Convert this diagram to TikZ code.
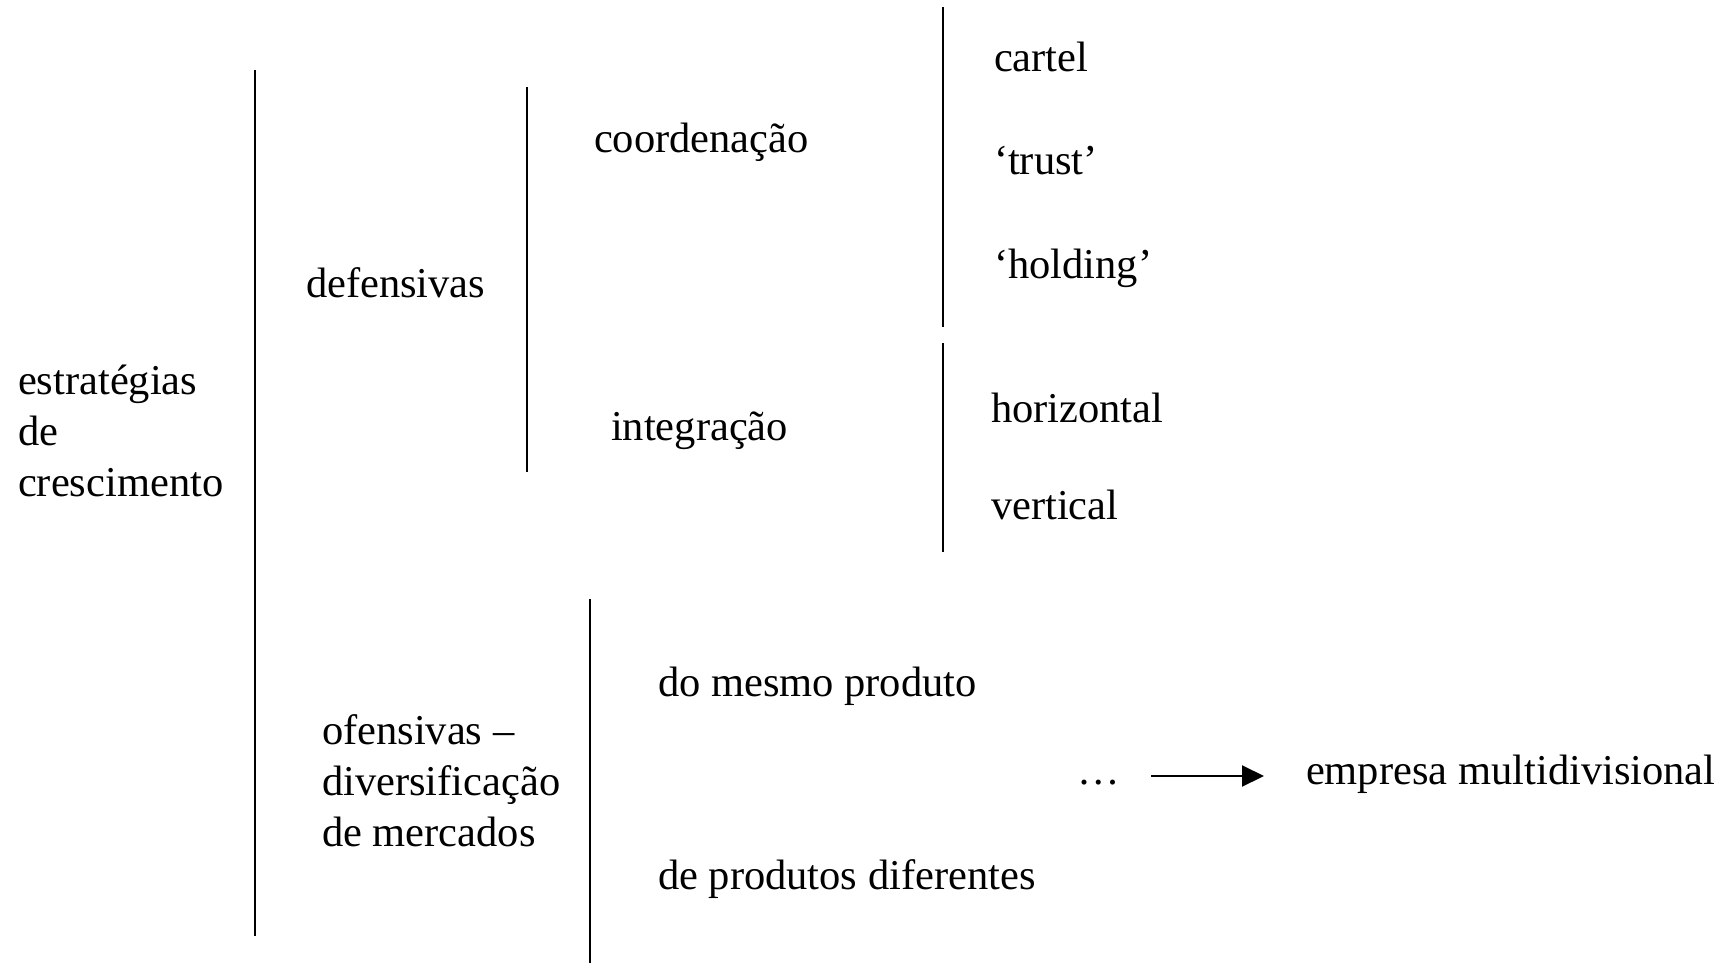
\documentclass[tikz,border=0pt]{standalone}
\usepackage{fontspec}
\setmainfont{Liberation Serif}
\usetikzlibrary{arrows.meta}
\begin{document}
\begin{tikzpicture}[x=1pt,y=-1pt,
  lbl/.style={anchor=base west,inner sep=0pt,outer sep=0pt},
  bar/.style={line width=2pt,draw=black},
  arr/.style={line width=2pt,-{Triangle[length=22pt,width=21pt]}},
  font=\fontsize{42.5}{51}\selectfont]
\useasboundingbox[fill=white] (0,0) rectangle (1729,963);
% bracket lines
\coordinate (aT) at (255,70);  \coordinate (aB) at (255,936);
\coordinate (bT) at (527,87);  \coordinate (bB) at (527,472);
\coordinate (cT) at (943,7);   \coordinate (cB) at (943,327);
\coordinate (dT) at (943,343); \coordinate (dB) at (943,552);
\coordinate (eT) at (590,599); \coordinate (eB) at (590,963);
\draw[bar] (aT) -- (aB);
\draw[bar] (bT) -- (bB);
\draw[bar] (cT) -- (cB);
\draw[bar] (dT) -- (dB);
\draw[bar] (eT) -- (eB);
% texts
\node[lbl] (est1) at (18,394) {estratégias};
\node[lbl] (est2) at (18,445) {de};
\node[lbl] (est3) at (18,496) {crescimento};
\node[lbl] (def) at (306,297) {defensivas};
\node[lbl] (coord) at (594,153) {coordenação};
\node[lbl] (integ) at (611,440) {integração};
\node[lbl] (cartel) at (994,72) {cartel};
\node[lbl] (trust) at (994,174) {‘trust’};
\node[lbl] (holding) at (994,278) {‘holding’};
\node[lbl] (horiz) at (991,422) {horizontal};
\node[lbl] (vert) at (991,519) {vertical};
\node[lbl] (of1) at (322,744) {ofensivas –};
\node[lbl] (of2) at (322,795) {diversificação};
\node[lbl] (of3) at (322,846) {de mercados};
\node[lbl] (mesmo) at (658,696) {do mesmo produto};
\node[lbl] (difer) at (658,889) {de produtos diferentes};
\node[lbl] (dots) at (1077,784) {…};
\node[lbl] (emp) at (1306,784) {empresa multidivisional};
\coordinate (arrS) at (1151,776);
\coordinate (arrE) at (1264,776);
\draw[arr] (arrS) -- (arrE);
\end{tikzpicture}
\end{document}
